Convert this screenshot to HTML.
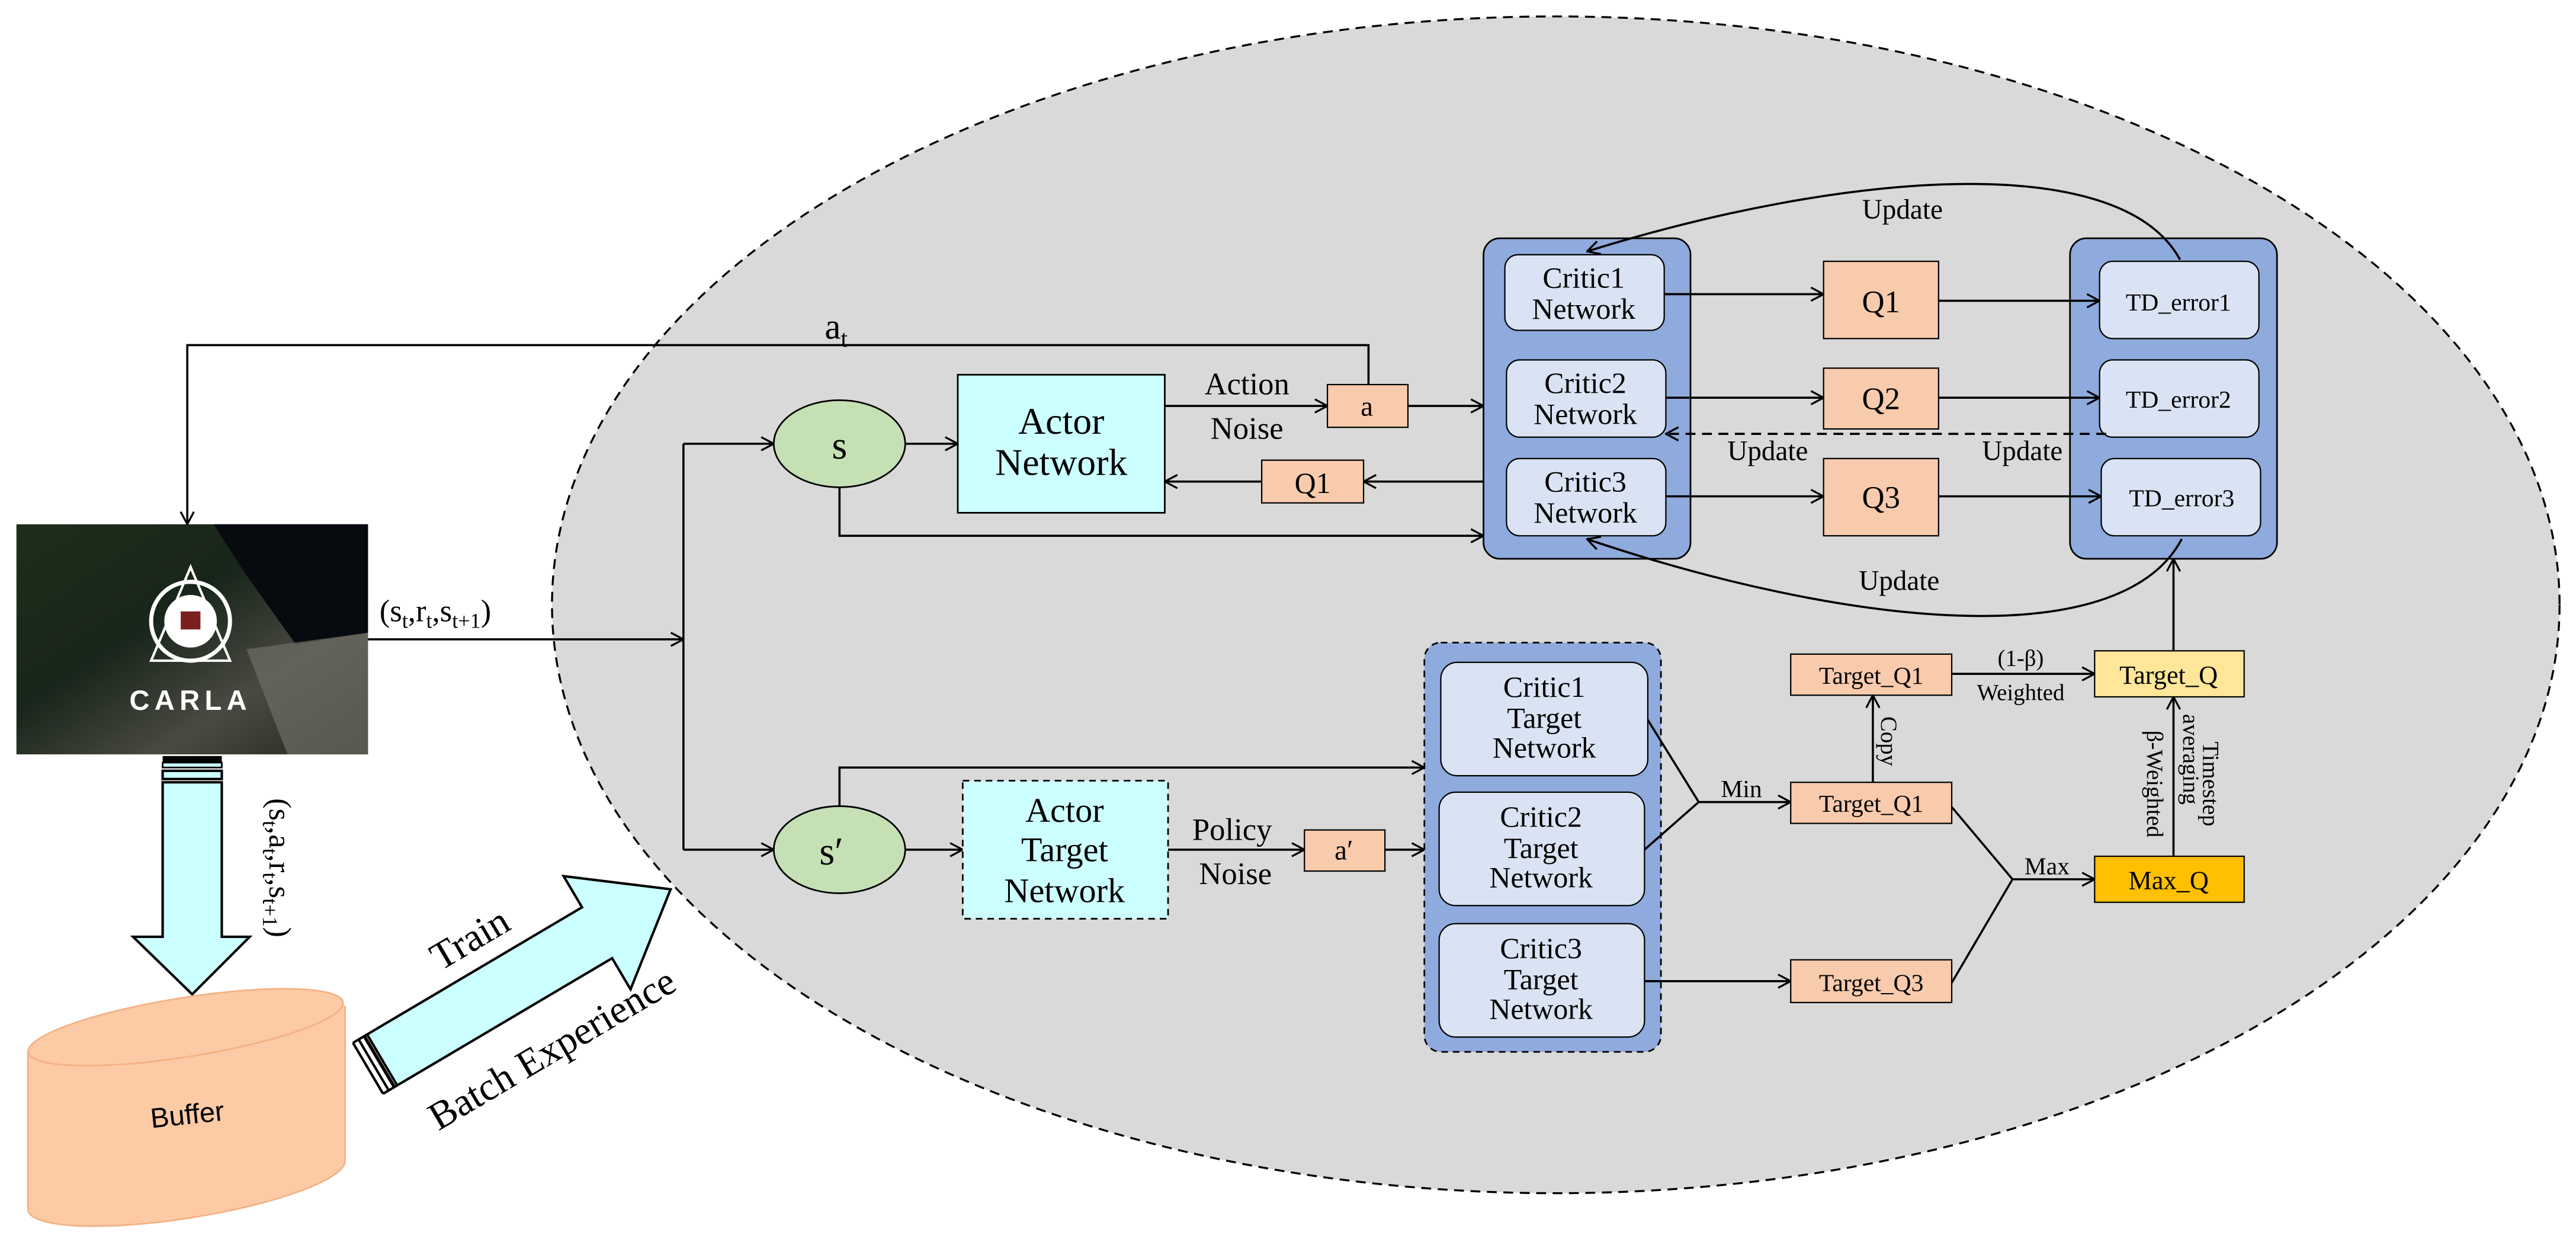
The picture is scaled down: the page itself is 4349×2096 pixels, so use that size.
<!DOCTYPE html>
<html><head><meta charset="utf-8"><style>
html,body{margin:0;padding:0;background:#fff;}
svg{display:block;}
</style></head><body>
<svg width="4349" height="2096" viewBox="0 0 1568 755.7" xmlns="http://www.w3.org/2000/svg">
<defs>
<marker id="ar" viewBox="0 0 10 10" refX="9.5" refY="5" markerWidth="9" markerHeight="9" markerUnits="userSpaceOnUse" orient="auto">
<path d="M1,0.5 L9.5,5 L1,9.5" fill="none" stroke="#000" stroke-width="1.3"/></marker>
<linearGradient id="img" x1="0" y1="0" x2="1" y2="1">
<stop offset="0" stop-color="#1f2e1a"/><stop offset="0.4" stop-color="#18251a"/><stop offset="0.7" stop-color="#4a4a42"/><stop offset="1" stop-color="#22261c"/></linearGradient>
</defs>
<g style="font-family:'Liberation Serif',serif" fill="#000">
<!-- big ellipse -->
<ellipse cx="947" cy="368" rx="611" ry="358" fill="#d9d9d9" stroke="#000" stroke-width="1.2" stroke-dasharray="6,4"/>

<!-- CARLA image -->
<rect x="10" y="319" width="214" height="140" fill="url(#img)"/>
<polygon points="130,319 224,319 224,385 180,392 150,350" fill="#070b10"/>
<polygon points="150,395 224,385 224,459 175,459" fill="#6e6e64" opacity="0.7"/>
<polygon points="116,345 92,402 140,402" fill="none" stroke="#fff" stroke-width="1.5"/>
<circle cx="116" cy="378" r="24" fill="none" stroke="#fff" stroke-width="2.5"/>
<circle cx="116" cy="378" r="16" fill="#fff"/>
<rect x="110" y="372" width="12" height="11" fill="#7a2020"/>
<text x="116" y="432" style="font-family:'Liberation Sans',sans-serif;font-weight:bold" font-size="17" letter-spacing="3" text-anchor="middle" fill="#fff">CARLA</text>

<!-- a_t feedback -->
<polyline points="833,234 833,210 114,210 114,319" fill="none" stroke="#000" stroke-width="1.3" marker-end="url(#ar)"/>
<text x="502" y="206" font-size="22">a<tspan font-size="15" dy="5">t</tspan></text>

<!-- (st,rt,st+1) -->
<text x="231" y="378" font-size="19">(s<tspan font-size="13" dy="4">t</tspan><tspan dy="-4">,r</tspan><tspan font-size="13" dy="4">t</tspan><tspan dy="-4">,s</tspan><tspan font-size="13" dy="4">t+1</tspan><tspan dy="-4">)</tspan></text>
<line x1="224" y1="389" x2="416" y2="389" stroke="#000" stroke-width="1.3" marker-end="url(#ar)"/>
<line x1="416" y1="270" x2="416" y2="517" stroke="#000" stroke-width="1.3"/>
<line x1="416" y1="270" x2="471" y2="270" stroke="#000" stroke-width="1.3" marker-end="url(#ar)"/>
<line x1="416" y1="517" x2="471" y2="517" stroke="#000" stroke-width="1.3" marker-end="url(#ar)"/>

<!-- s, s' -->
<ellipse cx="511" cy="270" rx="40" ry="26.5" fill="#c5e0b4" stroke="#000" stroke-width="1"/>
<text x="511" y="279" font-size="24" text-anchor="middle">s</text>
<ellipse cx="511" cy="517" rx="40" ry="26.5" fill="#c5e0b4" stroke="#000" stroke-width="1"/>
<text x="506" y="526" font-size="24" text-anchor="middle">s′</text>
<line x1="551" y1="270" x2="583" y2="270" stroke="#000" stroke-width="1.3" marker-end="url(#ar)"/>
<line x1="551" y1="517" x2="586" y2="517" stroke="#000" stroke-width="1.3" marker-end="url(#ar)"/>

<!-- Actor -->
<rect x="583" y="228" width="126" height="84" fill="#ccffff" stroke="#000" stroke-width="1"/>
<text x="646" y="264" font-size="23" text-anchor="middle">Actor</text>
<text x="646" y="289" font-size="23" text-anchor="middle">Network</text>
<text x="759" y="240" font-size="19" text-anchor="middle">Action</text>
<text x="759" y="267" font-size="19" text-anchor="middle">Noise</text>
<line x1="709" y1="247" x2="808" y2="247" stroke="#000" stroke-width="1.3" marker-end="url(#ar)"/>
<rect x="808" y="234" width="49" height="26" fill="#f8cbad" stroke="#000" stroke-width="0.8"/>
<text x="832" y="253" font-size="17" text-anchor="middle">a</text>
<line x1="857" y1="247" x2="903" y2="247" stroke="#000" stroke-width="1.3" marker-end="url(#ar)"/>
<rect x="768" y="280" width="62" height="26" fill="#f8cbad" stroke="#000" stroke-width="0.8"/>
<text x="799" y="300" font-size="18" text-anchor="middle">Q1</text>
<line x1="903" y1="293" x2="830" y2="293" stroke="#000" stroke-width="1.3" marker-end="url(#ar)"/>
<line x1="768" y1="293" x2="709" y2="293" stroke="#000" stroke-width="1.3" marker-end="url(#ar)"/>
<polyline points="511,297 511,326 903,326" fill="none" stroke="#000" stroke-width="1.3" marker-end="url(#ar)"/>

<!-- Actor target -->
<rect x="586" y="475" width="125" height="84" fill="#ccffff" stroke="#000" stroke-width="1" stroke-dasharray="4,3"/>
<text x="648" y="500" font-size="21" text-anchor="middle">Actor</text>
<text x="648" y="524" font-size="21" text-anchor="middle">Target</text>
<text x="648" y="549" font-size="21" text-anchor="middle">Network</text>
<text x="750" y="511" font-size="19" text-anchor="middle">Policy</text>
<text x="752" y="538" font-size="19" text-anchor="middle">Noise</text>
<line x1="711" y1="517" x2="794" y2="517" stroke="#000" stroke-width="1.3" marker-end="url(#ar)"/>
<rect x="794" y="505" width="49" height="25" fill="#f8cbad" stroke="#000" stroke-width="0.8"/>
<text x="818" y="523" font-size="17" text-anchor="middle">a′</text>
<line x1="843" y1="517" x2="867" y2="517" stroke="#000" stroke-width="1.3" marker-end="url(#ar)"/>
<polyline points="511,491 511,467 867,467" fill="none" stroke="#000" stroke-width="1.3" marker-end="url(#ar)"/>

<!-- Critic panel -->
<rect x="903" y="145" width="126" height="195" rx="10" fill="#8faadc" stroke="#000" stroke-width="1"/>
<rect x="916" y="155" width="97" height="46" rx="8" fill="#dae3f3" stroke="#000" stroke-width="0.8"/>
<text x="964" y="175" font-size="18" text-anchor="middle">Critic1</text>
<text x="964" y="194" font-size="18" text-anchor="middle">Network</text>
<rect x="917" y="219" width="97" height="47" rx="8" fill="#dae3f3" stroke="#000" stroke-width="0.8"/>
<text x="965" y="239" font-size="18" text-anchor="middle">Critic2</text>
<text x="965" y="258" font-size="18" text-anchor="middle">Network</text>
<rect x="917" y="279" width="97" height="47" rx="8" fill="#dae3f3" stroke="#000" stroke-width="0.8"/>
<text x="965" y="299" font-size="18" text-anchor="middle">Critic3</text>
<text x="965" y="318" font-size="18" text-anchor="middle">Network</text>

<!-- Q boxes -->
<rect x="1110" y="159" width="70" height="47" fill="#f8cbad" stroke="#000" stroke-width="0.8"/>
<text x="1145" y="190" font-size="19" text-anchor="middle">Q1</text>
<rect x="1110" y="224" width="70" height="37" fill="#f8cbad" stroke="#000" stroke-width="0.8"/>
<text x="1145" y="249" font-size="19" text-anchor="middle">Q2</text>
<rect x="1110" y="279" width="70" height="47" fill="#f8cbad" stroke="#000" stroke-width="0.8"/>
<text x="1145" y="309" font-size="19" text-anchor="middle">Q3</text>
<line x1="1013" y1="179" x2="1110" y2="179" stroke="#000" stroke-width="1.3" marker-end="url(#ar)"/>
<line x1="1014" y1="242" x2="1110" y2="242" stroke="#000" stroke-width="1.3" marker-end="url(#ar)"/>
<line x1="1014" y1="302" x2="1110" y2="302" stroke="#000" stroke-width="1.3" marker-end="url(#ar)"/>

<!-- TD panel -->
<rect x="1260" y="145" width="126" height="195" rx="10" fill="#8faadc" stroke="#000" stroke-width="1"/>
<rect x="1278" y="159" width="97" height="47" rx="8" fill="#dae3f3" stroke="#000" stroke-width="0.8"/>
<text x="1326" y="189" font-size="15" text-anchor="middle">TD_error1</text>
<rect x="1278" y="219" width="97" height="47" rx="8" fill="#dae3f3" stroke="#000" stroke-width="0.8"/>
<text x="1326" y="248" font-size="15" text-anchor="middle">TD_error2</text>
<rect x="1279" y="279" width="97" height="47" rx="8" fill="#dae3f3" stroke="#000" stroke-width="0.8"/>
<text x="1328" y="308" font-size="15" text-anchor="middle">TD_error3</text>
<line x1="1180" y1="183" x2="1278" y2="183" stroke="#000" stroke-width="1.3" marker-end="url(#ar)"/>
<line x1="1180" y1="242" x2="1278" y2="242" stroke="#000" stroke-width="1.3" marker-end="url(#ar)"/>
<line x1="1180" y1="302" x2="1279" y2="302" stroke="#000" stroke-width="1.3" marker-end="url(#ar)"/>

<!-- Update connectors -->
<line x1="1282" y1="264" x2="1014" y2="264" stroke="#000" stroke-width="1.3" stroke-dasharray="6,4" marker-end="url(#ar)"/>
<text x="1076" y="280" font-size="17" text-anchor="middle">Update</text>
<text x="1231" y="280" font-size="17" text-anchor="middle">Update</text>
<path d="M1327,158 C1290,90 1120,105 966,153" fill="none" stroke="#000" stroke-width="1.3" marker-end="url(#ar)"/>
<text x="1158" y="133" font-size="17" text-anchor="middle">Update</text>
<path d="M1328,328 C1290,400 1120,380 966,328" fill="none" stroke="#000" stroke-width="1.3" marker-end="url(#ar)"/>
<text x="1156" y="359" font-size="17" text-anchor="middle">Update</text>

<!-- Target critic panel -->
<rect x="867" y="391" width="144" height="249" rx="10" fill="#8faadc" stroke="#000" stroke-width="1" stroke-dasharray="4,3"/>
<rect x="877" y="403" width="126" height="69" rx="10" fill="#dae3f3" stroke="#000" stroke-width="0.8"/>
<text x="940" y="424" font-size="18" text-anchor="middle">Critic1</text>
<text x="940" y="443" font-size="18" text-anchor="middle">Target</text>
<text x="940" y="461" font-size="18" text-anchor="middle">Network</text>
<rect x="876" y="482" width="125" height="69" rx="10" fill="#dae3f3" stroke="#000" stroke-width="0.8"/>
<text x="938" y="503" font-size="18" text-anchor="middle">Critic2</text>
<text x="938" y="522" font-size="18" text-anchor="middle">Target</text>
<text x="938" y="540" font-size="18" text-anchor="middle">Network</text>
<rect x="876" y="562" width="125" height="69" rx="10" fill="#dae3f3" stroke="#000" stroke-width="0.8"/>
<text x="938" y="583" font-size="18" text-anchor="middle">Critic3</text>
<text x="938" y="602" font-size="18" text-anchor="middle">Target</text>
<text x="938" y="620" font-size="18" text-anchor="middle">Network</text>

<!-- Min -->
<polyline points="1003,438 1034,488 1001,517" fill="none" stroke="#000" stroke-width="1.3"/>
<line x1="1034" y1="488" x2="1090" y2="488" stroke="#000" stroke-width="1.3" marker-end="url(#ar)"/>
<text x="1060" y="485" font-size="15" text-anchor="middle">Min</text>
<rect x="1090" y="476" width="98" height="25" fill="#f8cbad" stroke="#000" stroke-width="0.8"/>
<text x="1139" y="494" font-size="15" text-anchor="middle">Target_Q1</text>
<rect x="1090" y="398" width="98" height="25" fill="#f8cbad" stroke="#000" stroke-width="0.8"/>
<text x="1139" y="416" font-size="15" text-anchor="middle">Target_Q1</text>
<line x1="1140" y1="476" x2="1140" y2="423" stroke="#000" stroke-width="1.3" marker-end="url(#ar)"/>
<text transform="translate(1145,451) rotate(90)" font-size="14" text-anchor="middle">Copy</text>
<line x1="1001" y1="597" x2="1090" y2="597" stroke="#000" stroke-width="1.3" marker-end="url(#ar)"/>
<rect x="1090" y="584" width="98" height="26" fill="#f8cbad" stroke="#000" stroke-width="0.8"/>
<text x="1139" y="603" font-size="15" text-anchor="middle">Target_Q3</text>

<!-- Max -->
<polyline points="1188,491 1225,535 1188,598" fill="none" stroke="#000" stroke-width="1.3"/>
<line x1="1225" y1="535" x2="1275" y2="535" stroke="#000" stroke-width="1.3" marker-end="url(#ar)"/>
<text x="1246" y="532" font-size="15" text-anchor="middle">Max</text>
<rect x="1275" y="521" width="91" height="28" fill="#ffc000" stroke="#000" stroke-width="0.8"/>
<text x="1320" y="541" font-size="16" text-anchor="middle">Max_Q</text>
<rect x="1275" y="396" width="91" height="28" fill="#ffe699" stroke="#000" stroke-width="0.8"/>
<text x="1320" y="416" font-size="16" text-anchor="middle">Target_Q</text>
<line x1="1188" y1="410" x2="1275" y2="410" stroke="#000" stroke-width="1.3" marker-end="url(#ar)"/>
<text x="1230" y="405" font-size="14" text-anchor="middle">(1-β)</text>
<text x="1230" y="426" font-size="14" text-anchor="middle">Weighted</text>
<line x1="1323" y1="521" x2="1323" y2="424" stroke="#000" stroke-width="1.3" marker-end="url(#ar)"/>
<text transform="translate(1307,477) rotate(90)" font-size="14" text-anchor="middle">β-Weighted</text>
<text transform="translate(1329,462) rotate(90)" font-size="14" text-anchor="middle">averaging</text>
<text transform="translate(1341,477) rotate(90)" font-size="14" text-anchor="middle">Timestep</text>
<line x1="1323" y1="396" x2="1323" y2="340" stroke="#000" stroke-width="1.3" marker-end="url(#ar)"/>

<!-- down arrow -->
<rect x="99" y="460" width="36" height="4" fill="#000"/>
<rect x="99" y="464" width="36" height="3" fill="#ccffff" stroke="#000" stroke-width="1"/>
<rect x="99" y="469" width="36" height="5" fill="#ccffff" stroke="#000" stroke-width="1.5"/>
<polygon points="99,476 135,476 135,570 152,570 117,605 81,570 99,570" fill="#ccffff" stroke="#000" stroke-width="1.5"/>
<text transform="translate(164,528) rotate(90)" font-size="19" text-anchor="middle">(s<tspan font-size="13" dy="4">t</tspan><tspan dy="-4">,a</tspan><tspan font-size="13" dy="4">t</tspan><tspan dy="-4">,r</tspan><tspan font-size="13" dy="4">t</tspan><tspan dy="-4">,s</tspan><tspan font-size="13" dy="4">t+1</tspan><tspan dy="-4">)</tspan></text>

<!-- buffer -->
<path d="M17,640 L17,736 A97,20 -9 0 0 210,706 L210,612" fill="#fdcaa6" stroke="#f4b183" stroke-width="1"/>
<ellipse cx="113" cy="625" rx="97" ry="18" transform="rotate(-9 113 625)" fill="#fdcaa6" stroke="#f4b183" stroke-width="1"/>
<text x="114" y="684" style="font-family:'Liberation Sans',sans-serif" font-size="17" text-anchor="middle" transform="rotate(-6 114 678)">Buffer</text>

<!-- train arrow -->
<g transform="translate(224,650) rotate(-30.6)">
<polygon points="10,-18 162,-18 162,-40 214,0 162,40 162,18 10,18" fill="#ccffff" stroke="#000" stroke-width="1.5"/>
<line x1="0" y1="-18" x2="0" y2="18" stroke="#000" stroke-width="1.5"/>
<line x1="4" y1="-18" x2="4" y2="18" stroke="#000" stroke-width="1.5"/>
<line x1="8" y1="-18" x2="8" y2="18" stroke="#000" stroke-width="2"/>
<line x1="0" y1="-18" x2="10" y2="-18" stroke="#000" stroke-width="1.5"/>
<line x1="0" y1="18" x2="10" y2="18" stroke="#000" stroke-width="1.5"/>
</g>
<text transform="translate(290,578) rotate(-30.6)" font-size="24" text-anchor="middle">Train</text>
<text transform="translate(340,645) rotate(-30.6)" font-size="24" text-anchor="middle">Batch Experience</text>
</g>
</svg>
</body></html>
